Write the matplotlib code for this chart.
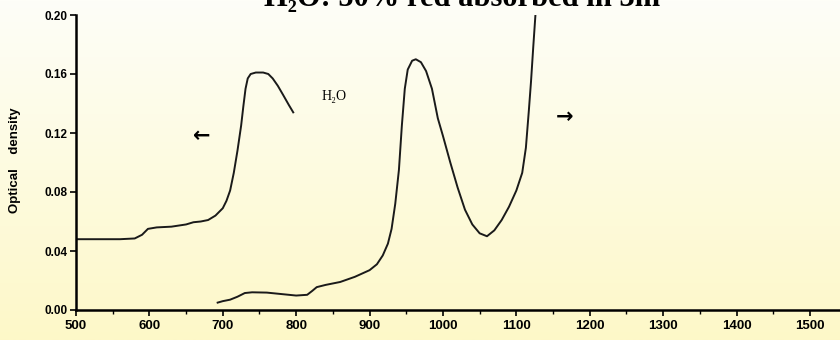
import numpy as np
import matplotlib
matplotlib.use("Agg")
import matplotlib.pyplot as plt
from matplotlib.ticker import MultipleLocator

# visible band (read with the left arrow)
vis_nm = [500, 520, 540, 560, 580, 590, 598, 610, 630, 650, 660, 670, 680, 690,
          700, 705, 710, 715, 720, 725, 728, 731, 734, 738, 745, 755, 762, 768,
          775, 782, 790, 796]
vis_od = [0.048, 0.048, 0.048, 0.048, 0.0485, 0.051, 0.055, 0.056, 0.0565, 0.058,
          0.0595, 0.060, 0.061, 0.064, 0.069, 0.074, 0.081, 0.093, 0.108, 0.125,
          0.138, 0.150, 0.157, 0.160, 0.161, 0.161, 0.160, 0.157, 0.152, 0.146,
          0.139, 0.134]

# near infrared band (read with the right arrow)
nir_nm = [693, 700, 710, 720, 730, 740, 760, 780, 800, 815, 822, 828, 840, 860,
          880, 900, 910, 918, 925, 930, 935, 940, 944, 948, 952, 958, 963, 970,
          977, 985, 993, 1000, 1010, 1020, 1030, 1040, 1050, 1060, 1070, 1080,
          1090, 1100, 1108, 1113, 1117, 1120, 1123, 1126]
nir_od = [0.005, 0.006, 0.007, 0.009, 0.0115, 0.012, 0.0118, 0.0108, 0.0098,
          0.0103, 0.013, 0.0155, 0.017, 0.019, 0.0225, 0.027, 0.031, 0.037,
          0.045, 0.055, 0.072, 0.095, 0.125, 0.150, 0.163, 0.169, 0.170, 0.168,
          0.162, 0.150, 0.130, 0.118, 0.100, 0.083, 0.068, 0.058, 0.052, 0.050,
          0.054, 0.061, 0.070, 0.081, 0.093, 0.110, 0.135, 0.155, 0.178, 0.200]

y_ticks = [0.00, 0.04, 0.08, 0.12, 0.16, 0.20]
x_ticks = list(range(500, 1600, 100))

fig = plt.figure(figsize=(8.4, 3.4), dpi=100)

# pale yellow gradient behind everything
bg = fig.add_axes([0, 0, 1, 1], zorder=-1)
grad = np.linspace(0, 1, 256).reshape(-1, 1)
cmap = matplotlib.colors.LinearSegmentedColormap.from_list("bg", ["#fefef8", "#fdf8c8"])
bg.imshow(grad, aspect="auto", cmap=cmap, extent=[0, 1, 0, 1], origin="upper")
bg.axis("off")

ax = fig.add_axes([76 / 840, 30 / 340, 1 - 76 / 840, 295 / 340])
ax.patch.set_alpha(0)

ax.plot(vis_nm, vis_od, color="#1a1a1a", lw=1.4)
ax.plot(nir_nm, nir_od, color="#1a1a1a", lw=1.4)

ax.set_xlim(500, 1541)
ax.set_ylim(0, 0.20)
ax.set_xticks(x_ticks)
ax.xaxis.set_minor_locator(MultipleLocator(50))
ax.set_yticks(y_ticks)
ax.set_yticklabels([f"{v:.2f}" for v in y_ticks])

for s in ["top", "right"]:
    ax.spines[s].set_visible(False)
ax.spines["left"].set_linewidth(1.8)
ax.spines["bottom"].set_linewidth(1.8)
ax.tick_params(axis="both", which="major", length=4, width=1.2, direction="out")
ax.tick_params(axis="x", which="minor", length=3, width=1.0, direction="out")
for lab in ax.get_xticklabels() + ax.get_yticklabels():
    lab.set_fontfamily("Liberation Sans")
    lab.set_fontweight("bold")
ax.tick_params(axis="x", labelsize=9.5, pad=3)
ax.tick_params(axis="y", labelsize=8.5, pad=2)

fig.text(15 / 840, 1 - 160 / 340, "Optical    density", rotation=90,
         ha="center", va="center", fontsize=9.5, fontweight="bold",
         family="Liberation Sans")

ax.text(852, 0.145, "H₂O", ha="center", va="center", fontsize=10,
        family=["Liberation Serif", "DejaVu Serif"])
ax.text(672, 0.118, "←", ha="center", va="center", fontsize=15,
        fontweight="bold", family="DejaVu Sans")
ax.text(1166, 0.131, "→", ha="center", va="center", fontsize=15,
        fontweight="bold", family="DejaVu Sans")

# title is clipped by the top edge in the original slide
fig.text(462 / 840, 1 - 6 / 340, "H₂O: 50% red absorbed in 3m", ha="center",
         va="baseline", fontsize=22, fontweight="bold",
         family=["Liberation Serif", "DejaVu Serif"])

fig.savefig("out.png", dpi=100)
